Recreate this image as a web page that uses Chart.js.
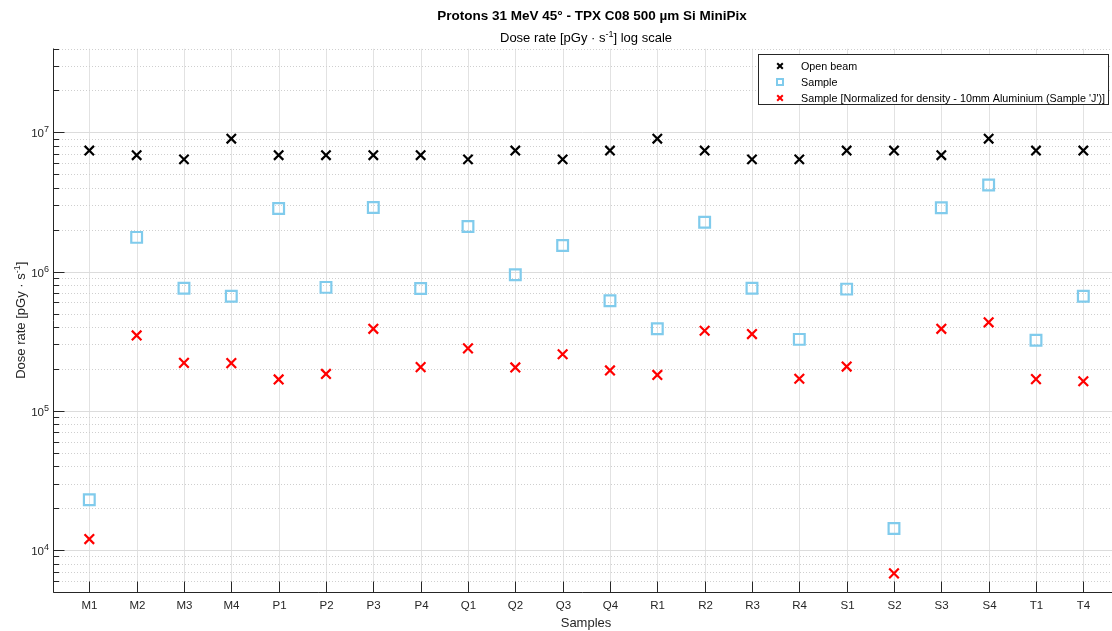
<!DOCTYPE html>
<html>
<head>
<meta charset="utf-8">
<title>Protons 31 MeV 45° - TPX C08 500 µm Si MiniPix</title>
<script src="https://cdn.jsdelivr.net/npm/chart.js"></script>
<style>
  html, body { margin: 0; padding: 0; background: #ffffff; overflow: hidden; }
  #wrap { position: relative; width: 1112px; height: 631px; }
</style>
</head>
<body>
<div id="wrap"><canvas id="chart" width="1112" height="631"></canvas></div>
<script>
// Sample positions along the x axis
const samples = ['M1','M2','M3','M4','P1','P2','P3','P4','Q1','Q2','Q3','Q4',
                 'R1','R2','R3','R4','S1','S2','S3','S4','T1','T4'];

// Dose rate, pGy/s
const openBeam = [7.4e6, 6.85e6, 6.4e6, 9.0e6, 6.85e6, 6.85e6, 6.85e6, 6.85e6, 6.4e6, 7.4e6, 6.4e6,
                  7.4e6, 9.0e6, 7.4e6, 6.4e6, 6.4e6, 7.4e6, 7.4e6, 6.85e6, 9.0e6, 7.4e6, 7.4e6];
const sampleDose = [2.3e4, 1.76e6, 7.6e5, 6.65e5, 2.84e6, 7.7e5, 2.89e6, 7.57e5, 2.11e6, 9.5e5, 1.54e6,
                    6.17e5, 3.88e5, 2.26e6, 7.6e5, 3.26e5, 7.48e5, 1.43e4, 2.87e6, 4.18e6, 3.21e5, 6.65e5];
const normalizedDose = [1.2e4, 3.48e5, 2.21e5, 2.2e5, 1.68e5, 1.84e5, 3.88e5, 2.06e5, 2.81e5, 2.05e5, 2.55e5,
                        1.95e5, 1.81e5, 3.76e5, 3.56e5, 1.70e5, 2.08e5, 6.8e3, 3.88e5, 4.32e5, 1.69e5, 1.63e5];

// Log axis range and labelled decades
const yMin = 5e3;
const yMax = 4e7;
const decadeExponents = [4, 5, 6, 7];

const FONT = '"Liberation Sans", Arial, Helvetica, sans-serif';
const TEXT = '#262626';

const toPoints = arr => arr.map((v, i) => ({ x: i, y: v }));

// Draws a string with superscript parts
function drawRich(ctx, parts, x, y, align, size, weight, supScale) {
  const supSize = Math.round(size * (supScale || 0.72));
  let total = 0;
  const widths = parts.map(p => {
    ctx.font = `${weight || 'normal'} ${p.sup ? supSize : size}px ${FONT}`;
    const w = ctx.measureText(p.t).width;
    total += w;
    return w;
  });
  let cx = align === 'center' ? x - total / 2 : (align === 'right' ? x - total : x);
  ctx.textAlign = 'left';
  ctx.textBaseline = 'alphabetic';
  parts.forEach((p, i) => {
    ctx.font = `${weight || 'normal'} ${p.sup ? supSize : size}px ${FONT}`;
    ctx.fillText(p.t, cx, p.sup ? y - size * 0.42 : y);
    cx += widths[i];
  });
}

function drawMarker(ctx, style, x, y, r, color, lw) {
  ctx.save();
  ctx.strokeStyle = color;
  ctx.lineWidth = lw;
  ctx.beginPath();
  if (style === 'rect') {
    ctx.rect(x - r, y - r, 2 * r, 2 * r);
  } else {
    ctx.moveTo(x - r, y - r); ctx.lineTo(x + r, y + r);
    ctx.moveTo(x - r, y + r); ctx.lineTo(x + r, y - r);
  }
  ctx.stroke();
  ctx.restore();
}

const framePlugin = {
  id: 'frame',
  beforeDatasetsDraw(chart) {
    const { ctx, chartArea: a, scales: { x, y } } = chart;
    ctx.save();
    ctx.beginPath();
    ctx.rect(a.left, a.top, a.right - a.left, a.bottom - a.top);
    ctx.clip();
    ctx.lineWidth = 1;
    // vertical grid at each sample
    ctx.strokeStyle = '#e2e2e2';
    x.ticks.forEach(t => {
      const px = Math.round(x.getPixelForValue(t.value)) + 0.5;
      ctx.beginPath(); ctx.moveTo(px, a.top); ctx.lineTo(px, a.bottom); ctx.stroke();
    });
    // horizontal log grid: solid on decades, dotted in between
    y.ticks.forEach(t => {
      const py = Math.round(y.getPixelForValue(t.value)) + 0.5;
      if (t.major) {
        ctx.setLineDash([]);
        ctx.strokeStyle = '#dcdcdc';
      } else {
        ctx.setLineDash([1, 2]);
        ctx.strokeStyle = '#cfcfcf';
      }
      ctx.beginPath(); ctx.moveTo(a.left, py); ctx.lineTo(a.right, py); ctx.stroke();
    });
    ctx.restore();
  },
  afterDatasetsDraw(chart) {
    const { ctx, chartArea: a, scales: { x, y } } = chart;
    ctx.save();
    ctx.strokeStyle = TEXT;
    ctx.lineWidth = 1;
    const ax = Math.round(a.left) + 0.5;
    const ay = Math.round(a.bottom) + 0.5;
    // axis lines
    ctx.beginPath();
    ctx.moveTo(ax, a.top); ctx.lineTo(ax, ay);
    ctx.lineTo(a.right, ay);
    ctx.stroke();
    // y tick marks and labels
    ctx.fillStyle = TEXT;
    y.ticks.forEach(t => {
      const py = Math.round(y.getPixelForValue(t.value)) + 0.5;
      const len = t.major ? 11 : 5.5;
      ctx.beginPath(); ctx.moveTo(ax, py); ctx.lineTo(ax + len, py); ctx.stroke();
      if (t.major) {
        const e = Math.round(Math.log10(t.value));
        drawRich(ctx, [{ t: '10' }, { t: String(e), sup: true }], a.left - 4, py + 4, 'right', 11.5, 'normal', 0.75);
      }
    });
    // x tick marks and sample labels
    ctx.font = `11.5px ${FONT}`;
    ctx.textAlign = 'center';
    ctx.textBaseline = 'middle';
    x.ticks.forEach(t => {
      const px = Math.round(x.getPixelForValue(t.value)) + 0.5;
      ctx.beginPath(); ctx.moveTo(px, ay); ctx.lineTo(px, ay - 11); ctx.stroke();
      ctx.fillText(samples[t.value], px, 606);
    });
    // axis titles
    const midX = 586;
    ctx.font = `13px ${FONT}`;
    ctx.textAlign = 'center';
    ctx.textBaseline = 'alphabetic';
    ctx.fillText('Samples', midX, 627);
    ctx.save();
    ctx.translate(25, (a.top + a.bottom) / 2);
    ctx.rotate(-Math.PI / 2);
    drawRich(ctx, [{ t: 'Dose rate [pGy · s' }, { t: '-1', sup: true }, { t: ']' }], 0, 0, 'center', 13);
    ctx.restore();
    // titles
    ctx.fillStyle = '#000000';
    drawRich(ctx, [{ t: 'Protons 31 MeV 45° - TPX C08 500 µm Si MiniPix' }], 592, 20, 'center', 13.5, 'bold');
    drawRich(ctx, [{ t: 'Dose rate [pGy · s' }, { t: '-1', sup: true }, { t: '] log scale' }], midX, 42, 'center', 13);
    // legend
    const lx = 758.5, ly = 54.5, lw = 350, lh = 50;
    ctx.fillStyle = '#ffffff';
    ctx.fillRect(lx, ly, lw, lh);
    ctx.strokeStyle = '#262626';
    ctx.lineWidth = 1;
    ctx.strokeRect(lx, ly, lw, lh);
    chart.data.datasets.forEach((ds, i) => {
      const cy = 66 + i * 16;
      if (ds.pointStyle === 'rect') {
        drawMarker(ctx, 'rect', 780, cy, 3, ds.borderColor, 2);
      } else {
        drawMarker(ctx, 'cross', 780, cy, 2.8, ds.borderColor, 2);
      }
      ctx.fillStyle = '#000000';
      ctx.font = `10.75px ${FONT}`;
      ctx.textAlign = 'left';
      ctx.textBaseline = 'middle';
      ctx.fillText(ds.label, 801, cy + 1);
    });
    ctx.restore();
  }
};

new Chart(document.getElementById('chart'), {
  type: 'scatter',
  data: {
    datasets: [
      {
        label: 'Open beam',
        data: toPoints(openBeam),
        pointStyle: 'crossRot',
        radius: 6.6,
        borderColor: '#000000',
        backgroundColor: '#000000',
        borderWidth: 2.2
      },
      {
        label: 'Sample',
        data: toPoints(sampleDose),
        pointStyle: 'rect',
        radius: 7.6,
        borderColor: '#80cbec',
        backgroundColor: 'rgba(0,0,0,0)',
        borderWidth: 2.2
      },
      {
        label: "Sample [Normalized for density - 10mm Aluminium (Sample 'J')]",
        data: toPoints(normalizedDose),
        pointStyle: 'crossRot',
        radius: 6.8,
        borderColor: '#ff0000',
        backgroundColor: '#ff0000',
        borderWidth: 2.2
      }
    ]
  },
  options: {
    responsive: false,
    animation: false,
    events: [],
    layout: { autoPadding: false, padding: { top: 48.5, left: 0, right: 0, bottom: 0 } },
    plugins: {
      legend: { display: false },
      title: { display: false },
      tooltip: { enabled: false }
    },
    scales: {
      x: {
        type: 'linear',
        min: -0.767,
        max: 21.606,
        afterBuildTicks: s => { s.ticks = samples.map((_, i) => ({ value: i })); },
        afterFit: s => { s.height = 39; },
        grid: { display: false, drawTicks: false },
        border: { display: false },
        ticks: { display: false }
      },
      y: {
        type: 'logarithmic',
        min: yMin,
        max: yMax,
        afterBuildTicks: s => {
          const ticks = [];
          for (let e = decadeExponents[0] - 1; e <= decadeExponents[decadeExponents.length - 1] + 1; e++) {
            for (let k = 1; k <= 9; k++) {
              const v = k * Math.pow(10, e);
              if (v >= yMin * 0.999 && v <= yMax * 1.001) ticks.push({ value: v, major: k === 1 });
            }
          }
          s.ticks = ticks;
        },
        afterFit: s => { s.width = 53; },
        grid: { display: false, drawTicks: false },
        border: { display: false },
        ticks: { display: false }
      }
    }
  },
  plugins: [framePlugin]
});
</script>
</body>
</html>
